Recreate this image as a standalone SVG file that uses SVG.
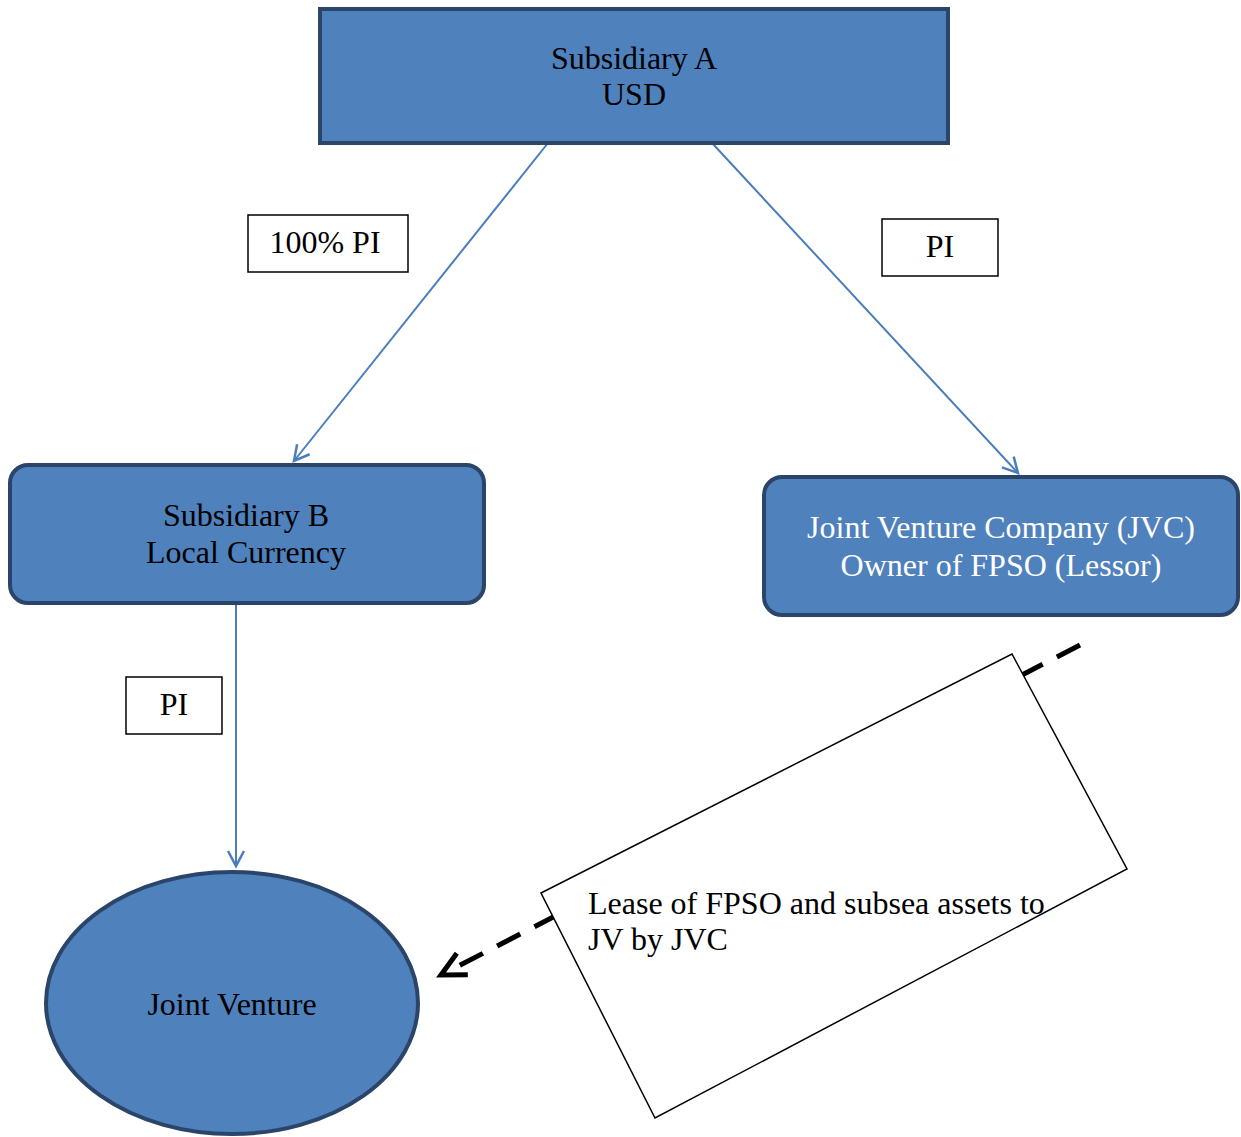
<svg xmlns="http://www.w3.org/2000/svg" width="1241" height="1137" viewBox="0 0 1241 1137">
<defs>
<style>
.node{fill:#4f81bd;stroke:#2a4569;stroke-width:4}
.t{font-family:"Liberation Serif",serif;font-size:32px;text-anchor:middle;fill:#000}
.s{text-anchor:start}
.w{fill:#fff}
.lbl{fill:#fff;stroke:#000;stroke-width:1.5}
.conn{stroke:#4a7ebb;stroke-width:2;fill:none}
</style>
<marker id="ab" markerWidth="20" markerHeight="20" refX="17" refY="10" orient="auto" markerUnits="userSpaceOnUse">
<path d="M2,2 L17,10 L2,18" fill="none" stroke="#4a7ebb" stroke-width="2.5"/>
</marker>
<marker id="ak" markerWidth="40" markerHeight="40" refX="34" refY="20" orient="auto" markerUnits="userSpaceOnUse">
<path d="M10,8 L34,20 L10,32" fill="none" stroke="#000" stroke-width="5"/>
</marker>
</defs>
<rect width="1241" height="1137" fill="#fff"/>
<g id="connectors">
<line class="conn" x1="548" y1="143" x2="294" y2="461" marker-end="url(#ab)"/>
<line class="conn" x1="712" y1="143" x2="1018" y2="473" marker-end="url(#ab)"/>
<line class="conn" x1="236" y1="603" x2="236" y2="866" marker-end="url(#ab)"/>
<line x1="1080" y1="645" x2="441" y2="975" stroke="#000" stroke-width="5" stroke-dasharray="26,16" marker-end="url(#ak)"/>
</g>
<g id="subA">
<rect class="node" x="320" y="9" width="628" height="134"/>
<text class="t" x="634" y="69">Subsidiary A</text>
<text class="t" x="634" y="105">USD</text>
</g>
<g id="subB">
<rect class="node" x="10" y="465" width="474" height="138" rx="18"/>
<text class="t" x="246" y="526">Subsidiary B</text>
<text class="t" x="246" y="563">Local Currency</text>
</g>
<g id="jvc">
<rect class="node" x="764" y="477" width="474" height="138" rx="18"/>
<text class="t w" x="1001" y="538">Joint Venture Company (JVC)</text>
<text class="t w" x="1001" y="576">Owner of FPSO (Lessor)</text>
</g>
<g id="jv">
<ellipse class="node" cx="232" cy="1003" rx="186" ry="131"/>
<text class="t" x="232" y="1015">Joint Venture</text>
</g>
<g id="label100">
<rect class="lbl" x="248" y="215" width="160" height="57"/>
<text class="t" x="325" y="253">100% PI</text>
</g>
<g id="labelPI1">
<rect class="lbl" x="882" y="219" width="116" height="57"/>
<text class="t" x="940" y="257">PI</text>
</g>
<g id="labelPI2">
<rect class="lbl" x="126" y="677" width="96" height="57"/>
<text class="t" x="174" y="715">PI</text>
</g>
<g id="lease">
<polygon points="541,893 1012,654 1127,869 655,1118" fill="#fff" stroke="#000" stroke-width="1.5"/>
<text class="t s" x="588" y="914">Lease of FPSO and subsea assets to</text>
<text class="t s" x="588" y="950">JV by JVC</text>
</g>
</svg>
